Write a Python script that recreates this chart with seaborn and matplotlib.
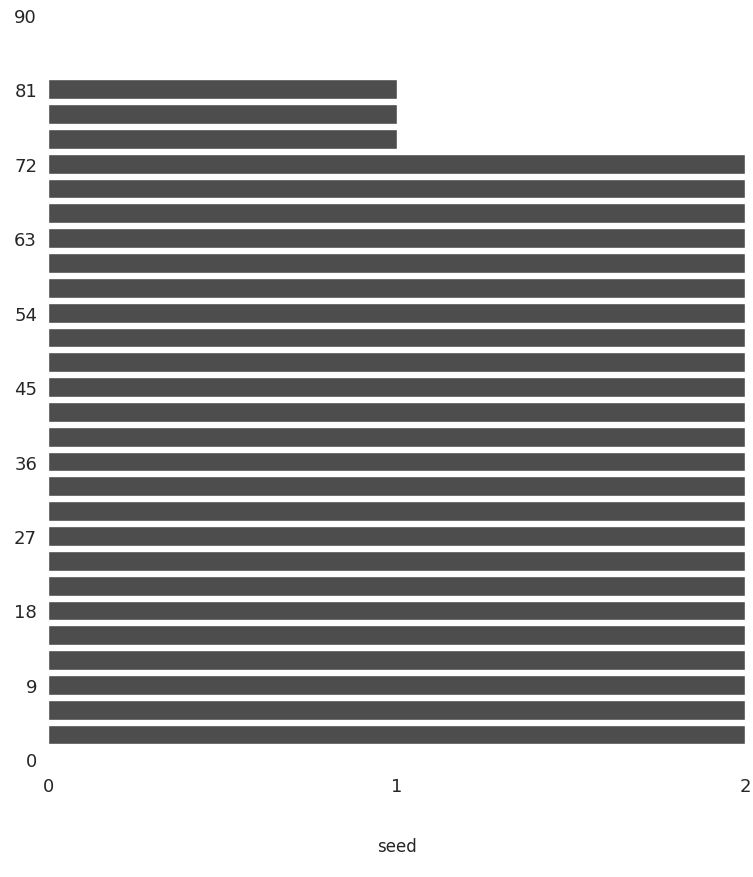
import matplotlib
matplotlib.use("Agg")
import matplotlib.pyplot as plt
import seaborn as sns
import pandas as pd

# data
seed = [3, 6, 9, 12, 15, 18, 21, 24, 27, 30, 33, 36, 39, 42, 45, 48, 51, 54,
        57, 60, 63, 66, 69, 72, 75, 78, 81]
count = [2, 2, 2, 2, 2, 2, 2, 2, 2, 2, 2, 2, 2, 2, 2, 2, 2, 2,
         2, 2, 2, 2, 2, 2, 1, 1, 1]
y_ticks = [0, 9, 18, 27, 36, 45, 54, 63, 72, 81, 90]
x_ticks = [0, 1, 2]

df = pd.DataFrame({"seed": seed, "count": count})

sns.set_theme(style="white")
plt.rcParams["font.family"] = ["DejaVu Sans"]

fig = plt.figure(figsize=(7.53, 8.78), dpi=100)
ax = fig.add_axes([0.064, 0.134, 0.926, 0.848])

sns.barplot(data=df, x="count", y="seed", orient="h", native_scale=True,
            color="#4d4d4d", saturation=1, width=0.8, ax=ax)

ax.set_ylim(0, 90)
ax.set_xlim(0, 2.0)
ax.set_yticks(y_ticks)
ax.set_yticklabels([str(v) for v in y_ticks], fontsize=13)
ax.set_xticks(x_ticks)
ax.set_xticklabels([str(v) for v in x_ticks], fontsize=13)
ax.set_xlabel("seed", fontsize=12, labelpad=30)
ax.set_ylabel("")
ax.tick_params(axis="x", length=3, pad=10)
ax.tick_params(axis="y", length=0, pad=8)
sns.despine(ax=ax, left=True, bottom=True)

fig.savefig("out.png", dpi=100)
